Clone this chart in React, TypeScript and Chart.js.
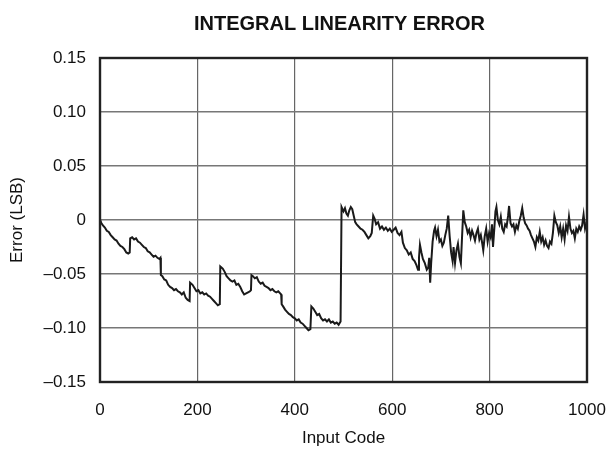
import React, { useEffect, useRef } from "react";
import { Chart, registerables } from "chart.js";

Chart.register(...registerables);

const CHART_TITLE = "INTEGRAL LINEARITY ERROR";
const X_TITLE = "Input Code";
const Y_TITLE = "Error (LSB)";
const X_TICKS = [0, 200, 400, 600, 800, 1000];
const Y_TICKS = [-0.15, -0.1, -0.05, 0, 0.05, 0.1, 0.15];

const inputCodes = [
  0, 3, 6, 10, 14, 18, 22, 26, 30, 34,
  38, 42, 46, 50, 54, 58, 61, 62, 66, 70,
  74, 78, 82, 86, 90, 94, 98, 102, 106, 110,
  114, 118, 122, 124, 125, 128, 132, 136, 140, 144,
  148, 152, 156, 160, 164, 168, 172, 176, 180, 184,
  185, 190, 194, 198, 202, 206, 210, 214, 218, 222,
  226, 230, 234, 238, 242, 246, 247, 252, 256, 260,
  264, 268, 272, 276, 280, 284, 288, 292, 296, 300,
  304, 308, 310, 311, 314, 318, 322, 326, 330, 334,
  338, 342, 346, 350, 354, 358, 362, 366, 370, 372,
  373, 376, 380, 384, 388, 392, 396, 400, 404, 408,
  412, 416, 420, 424, 428, 432, 434, 438, 442, 446,
  450, 454, 458, 462, 466, 470, 474, 478, 482, 486,
  490, 494, 496, 500, 503, 506, 509, 512, 515, 518,
  521, 524, 527, 531, 535, 539, 543, 547, 551, 555,
  558, 561, 564, 567, 571, 575, 579, 583, 587, 591,
  595, 599, 603, 607, 611, 615, 619, 622, 626, 630,
  634, 638, 642, 646, 650, 653, 655, 657, 660, 663,
  667, 671, 674, 676, 678, 680, 683, 686, 688, 691,
  694, 697, 700, 703, 706, 709, 712, 715, 718, 721,
  724, 726, 729, 732, 735, 738, 741, 743, 746, 749,
  752, 755, 758, 761, 764, 767, 770, 773, 776, 779,
  782, 785, 787, 790, 793, 796, 799, 802, 805, 807,
  810, 812, 814, 817, 820, 823, 826, 829, 832, 835,
  838, 840, 843, 846, 849, 852, 855, 858, 861, 864,
  867, 870, 873, 876, 879, 882, 885, 888, 891, 894,
  897, 900, 903, 906, 909, 912, 915, 918, 921, 924,
  927, 930, 933, 936, 939, 942, 945, 948, 951, 954,
  957, 960, 963, 966, 969, 972, 975, 978, 981, 984,
  987, 990, 993, 996, 999, 1000,
];

const errorLsb = [
  0.0, -0.003, -0.005, -0.007, -0.01, -0.011, -0.014, -0.016, -0.018, -0.019,
  -0.022, -0.024, -0.025, -0.027, -0.03, -0.031, -0.03, -0.017, -0.016, -0.018,
  -0.017, -0.02, -0.021, -0.023, -0.025, -0.026, -0.029, -0.03, -0.032, -0.034,
  -0.033, -0.035, -0.036, -0.035, -0.051, -0.052, -0.055, -0.056, -0.06, -0.062,
  -0.063, -0.065, -0.064, -0.066, -0.067, -0.069, -0.067, -0.072, -0.074, -0.075,
  -0.058, -0.06, -0.063, -0.066, -0.065, -0.068, -0.067, -0.069, -0.068, -0.07,
  -0.071, -0.073, -0.075, -0.077, -0.079, -0.078, -0.043, -0.045, -0.048, -0.052,
  -0.054, -0.056, -0.057, -0.056, -0.06, -0.059, -0.062, -0.066, -0.069, -0.068,
  -0.067, -0.066, -0.065, -0.051, -0.052, -0.054, -0.053, -0.057, -0.059, -0.058,
  -0.061, -0.062, -0.063, -0.065, -0.064, -0.066, -0.067, -0.066, -0.068, -0.069,
  -0.078, -0.08, -0.083, -0.085, -0.087, -0.088, -0.09, -0.091, -0.093, -0.092,
  -0.095, -0.096, -0.098, -0.1, -0.102, -0.101, -0.08, -0.082, -0.085, -0.088,
  -0.087, -0.091, -0.093, -0.092, -0.094, -0.092, -0.095, -0.094, -0.096, -0.095,
  -0.097, -0.094, 0.012, 0.008, 0.011, 0.006, 0.004, 0.009, 0.012, 0.01,
  0.004, -0.002, -0.004, -0.006, -0.008, -0.009, -0.011, -0.014, -0.017, -0.015,
  -0.012, 0.004, 0.001, -0.004, -0.002, -0.008, -0.006, -0.009, -0.007, -0.01,
  -0.008, -0.011, -0.009, -0.007, -0.012, -0.014, -0.011, -0.021, -0.026, -0.028,
  -0.032, -0.03, -0.036, -0.038, -0.042, -0.046, -0.035, -0.023, -0.03, -0.036,
  -0.04, -0.046, -0.044, -0.035, -0.058, -0.04, -0.02, -0.01, -0.007, -0.015,
  -0.009, -0.02, -0.018, -0.024, -0.021, -0.014, -0.008, 0.004, -0.015, -0.03,
  -0.038, -0.025, -0.04, -0.028, -0.022, -0.034, -0.04, -0.02, 0.009, -0.002,
  -0.006, -0.012, -0.009, -0.016, -0.01, -0.014, -0.019, -0.012, -0.008, -0.018,
  -0.014, -0.022, -0.028, -0.015, -0.008, -0.02, -0.012, -0.016, -0.004, -0.025,
  -0.006, 0.008, 0.012, 0.0, -0.004, 0.003, -0.008, -0.011, -0.004, -0.006,
  0.004, 0.013, -0.003, -0.006, -0.004, -0.011, -0.005, -0.008, -0.001, 0.004,
  0.011, 0.002, -0.003, -0.005, -0.008, -0.01, -0.014, -0.017, -0.02, -0.025,
  -0.016, -0.019, -0.011, -0.02, -0.016, -0.023, -0.019, -0.024, -0.026, -0.02,
  -0.022, -0.012, 0.004, -0.002, -0.005, -0.012, -0.006, -0.016, -0.008, -0.018,
  -0.005, -0.01, 0.003, -0.008, -0.012, -0.01, -0.017, -0.008, -0.011, -0.006,
  -0.009, -0.005, 0.005, -0.008, -0.003, 0.0,
];

const FONT = "'Liberation Sans', Arial, Helvetica, sans-serif";

function formatY(v: number): string {
  if (Math.abs(v) < 1e-9) return "0";
  const s = Math.abs(v).toFixed(2);
  return v < 0 ? "\u2013" + s : s;
}

const framePlugin = {
  id: "frameAndTitle",
  afterDraw(chart: any) {
    const { ctx, chartArea } = chart;
    ctx.save();
    ctx.strokeStyle = "#222";
    ctx.lineWidth = 2.4;
    ctx.strokeRect(
      chartArea.left,
      chartArea.top,
      chartArea.right - chartArea.left,
      chartArea.bottom - chartArea.top
    );
    ctx.fillStyle = "#111";
    ctx.font = `bold 20px ${FONT}`;
    ctx.textAlign = "center";
    ctx.textBaseline = "alphabetic";
    ctx.fillText(CHART_TITLE, (chartArea.left + chartArea.right) / 2 - 4, 30);
    ctx.restore();
  },
};

export default function App() {
  const canvasRef = useRef<HTMLCanvasElement | null>(null);

  useEffect(() => {
    if (!canvasRef.current) return;
    const points = inputCodes.map((c, i) => ({ x: c, y: errorLsb[i] }));
    const chart = new Chart(canvasRef.current, {
      type: "line",
      data: {
        datasets: [
          {
            data: points,
            borderColor: "#1a1a1a",
            borderWidth: 2,
            pointRadius: 0,
            tension: 0,
            fill: false,
          },
        ],
      },
      options: {
        animation: false,
        responsive: false,
        devicePixelRatio: 1,
        layout: { padding: { top: 58, left: 0, right: 25, bottom: 0 } },
        plugins: {
          legend: { display: false },
          tooltip: { enabled: false },
          title: { display: false },
        },
        scales: {
          x: {
            type: "linear",
            min: 0,
            max: 1000,
            afterBuildTicks: (scale: any) => {
              scale.ticks = X_TICKS.map((v) => ({ value: v }));
            },
            afterFit: (scale: any) => {
              scale.height = 67;
              scale.paddingLeft = 0;
              scale.paddingRight = 0;
            },
            ticks: {
              color: "#111",
              font: { family: FONT, size: 17 },
              padding: 18,
              maxRotation: 0,
              callback: (v: any) => String(v),
            },
            grid: { color: "#666", lineWidth: 1.2, drawTicks: false },
            border: { display: false },
            title: {
              display: true,
              text: X_TITLE,
              color: "#111",
              font: { family: FONT, size: 17 },
              padding: { top: 0, bottom: 0 },
            },
          },
          y: {
            type: "linear",
            min: -0.15,
            max: 0.15,
            afterBuildTicks: (scale: any) => {
              scale.ticks = Y_TICKS.map((v) => ({ value: v }));
            },
            afterFit: (scale: any) => {
              scale.width = 100;
              scale.paddingTop = 0;
              scale.paddingBottom = 0;
            },
            ticks: {
              color: "#111",
              font: { family: FONT, size: 17 },
              padding: 14,
              callback: (v: any) => formatY(Number(v)),
            },
            grid: { color: "#777", lineWidth: 1.5, drawTicks: false },
            border: { display: false },
            title: {
              display: true,
              text: Y_TITLE,
              color: "#111",
              font: { family: FONT, size: 17 },
              padding: { top: 7, bottom: 0 },
            },
          },
        },
      },
      plugins: [framePlugin],
    });
    return () => chart.destroy();
  }, []);

  return (
    <div style={{ position: "fixed", left: 0, top: 0, width: 612, height: 449, background: "#fff" }}>
      <canvas ref={canvasRef} width={612} height={449} style={{ width: 612, height: 449 }} />
    </div>
  );
}
